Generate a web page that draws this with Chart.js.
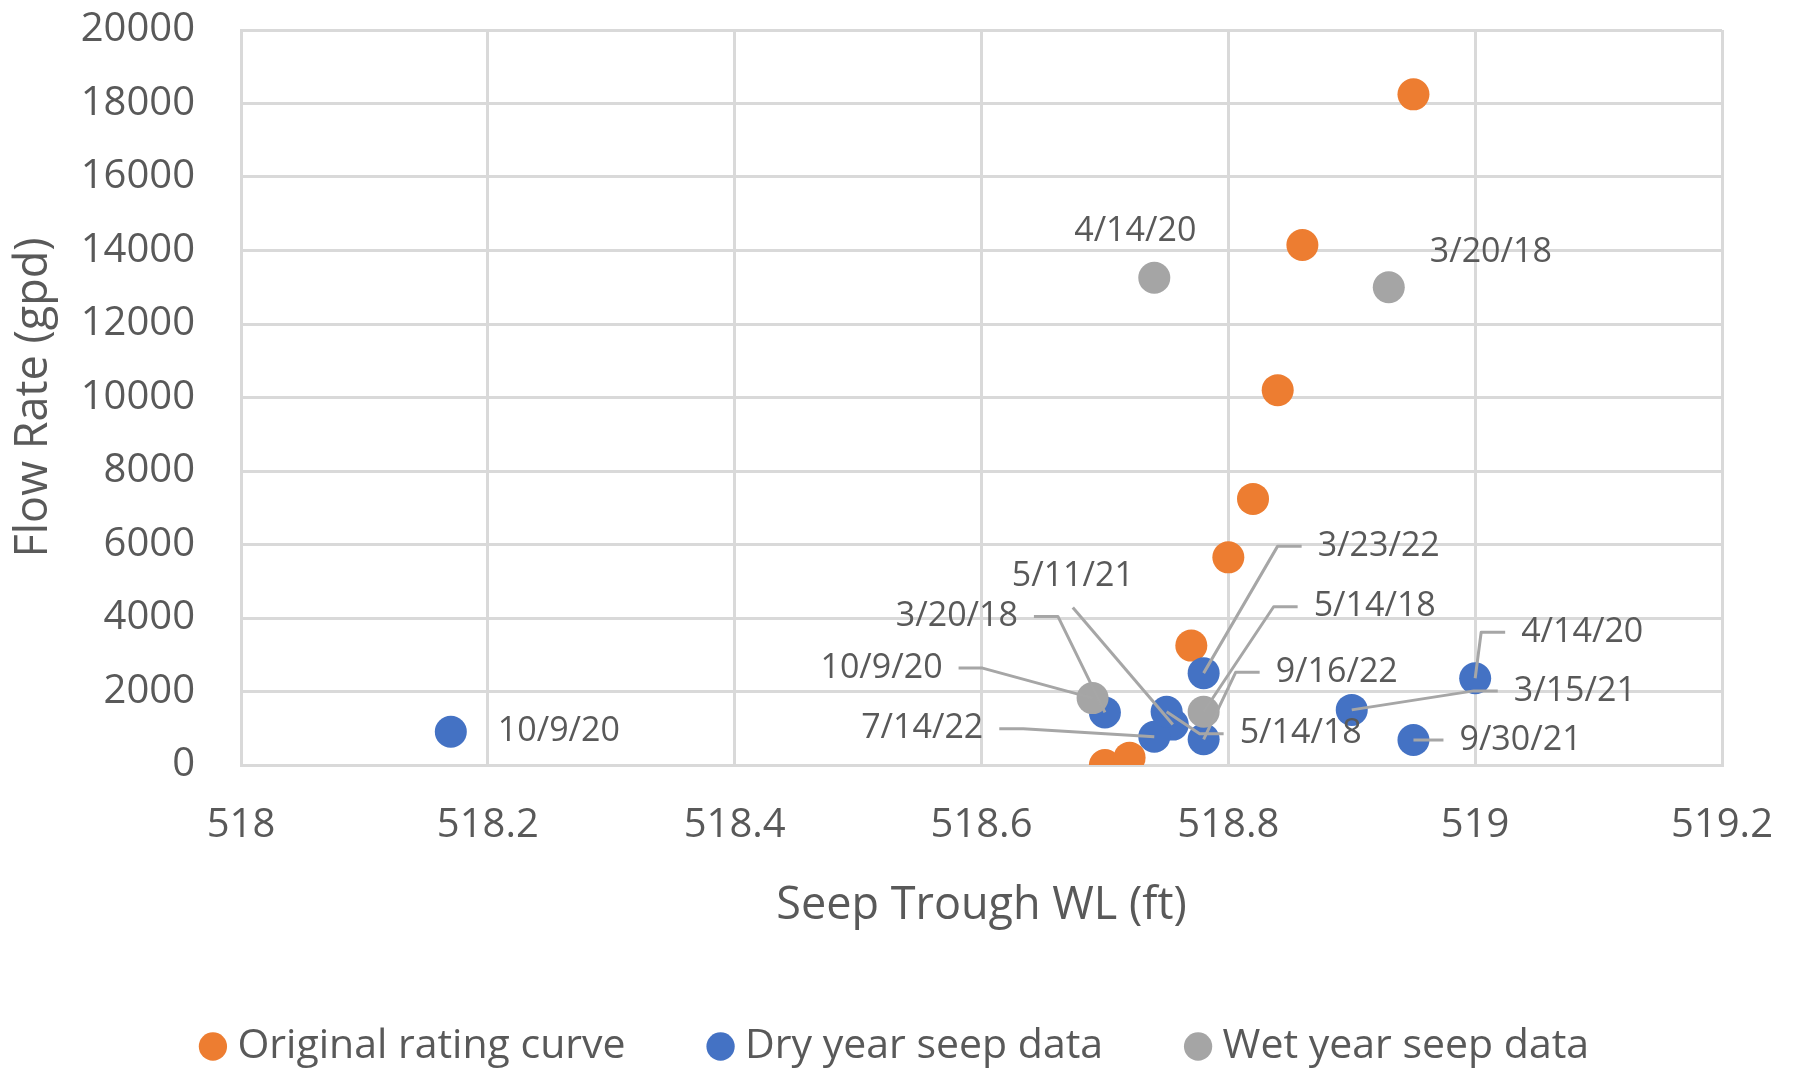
<!DOCTYPE html>
<html><head><meta charset="utf-8">
<script src="https://cdn.jsdelivr.net/npm/chart.js@4.4.1/dist/chart.umd.min.js"></script>
<style>html,body{margin:0;padding:0;background:#fff;}canvas{display:block;}</style>
</head><body>
<canvas id="c" width="1798" height="1069"></canvas>
<script>
// ---- data ----
const seriesNames = ['Original rating curve', 'Dry year seep data', 'Wet year seep data'];

const origX = [518.70, 518.72, 518.77, 518.80, 518.82, 518.84, 518.86, 518.95];
const origY = [0, 200, 3250, 5650, 7240, 10200, 14150, 18250];

const dryDates = ['10/9/20', '3/20/18', '5/11/21', '7/14/22', '3/23/22', '5/14/18', '9/16/22', '4/14/20', '3/15/21', '9/30/21'];
const dryX = [518.17, 518.70, 518.755, 518.74, 518.78, 518.75, 518.78, 519.00, 518.90, 518.95];
const dryY = [905, 1430, 1100, 770, 2500, 1450, 700, 2360, 1500, 680];

const wetDates = ['4/14/20', '3/20/18', '10/9/20', '5/14/18'];
const wetX = [518.74, 518.93, 518.69, 518.78];
const wetY = [13260, 13000, 1820, 1450];

// ---- label placement (styling, px offsets from the point) ----
const dryLabelPos = [
  {dx: 47, dy: 0, align: 'left', leader: false},
  {dx: -87, dy: -96, align: 'right', leader: true},
  {dx: -100, dy: -148, align: 'center', leader: true},
  {dx: -171, dy: -8, align: 'right', leader: true},
  {dx: 114, dy: -127, align: 'left', leader: true},
  {dx: 73, dy: 22, align: 'left', leader: true},
  {dx: 72, dy: -67, align: 'left', leader: true},
  {dx: 46, dy: -46, align: 'left', leader: true},
  {dx: 162, dy: -19, align: 'left', leader: true},
  {dx: 46, dy: 0, align: 'left', leader: true}
];
const wetLabelPos = [
  {dx: -19, dy: -46, align: 'center', leader: false},
  {dx: 41, dy: -35, align: 'left', leader: false},
  {dx: -150, dy: -30, align: 'right', leader: true},
  {dx: 110, dy: -105, align: 'left', leader: true}
];

const TEXT = '#595959';
const GRID = '#D9D9D9';
const NONE = 'rgba(0,0,0,0)';
const FONT = "'Open Sans', sans-serif";
Chart.defaults.font.family = FONT;
Chart.defaults.color = TEXT;

const toPts = (xs, ys) => xs.map((x, i) => ({x: x, y: ys[i]}));

const labelSets = [
  {dataset: 1, texts: dryDates, pos: dryLabelPos},
  {dataset: 2, texts: wetDates, pos: wetLabelPos}
];

const labelPlugin = {
  id: 'dateLabels',
  afterDatasetsDraw(chart) {
    const ctx = chart.ctx;
    const GAP = 16, STUB = 24;
    ctx.save();
    const items = [];
    labelSets.forEach(set => {
      const meta = chart.getDatasetMeta(set.dataset);
      meta.data.forEach((el, i) => {
        const o = set.pos[i];
        items.push({px: el.x, py: el.y, lx: el.x + o.dx, ly: el.y + o.dy, o: o, text: set.texts[i]});
      });
    });
    ctx.strokeStyle = '#A6A6A6';
    ctx.lineWidth = 3;
    ctx.lineJoin = 'round';
    items.forEach(it => {
      if (!it.o.leader) return;
      ctx.beginPath();
      if (it.o.align === 'left') {
        ctx.moveTo(it.lx - GAP, it.ly);
        ctx.lineTo(it.lx - GAP - STUB, it.ly);
      } else if (it.o.align === 'right') {
        ctx.moveTo(it.lx + GAP, it.ly);
        ctx.lineTo(it.lx + GAP + STUB, it.ly);
      } else {
        ctx.moveTo(it.lx, it.ly + 31);
      }
      ctx.lineTo(it.px, it.py);
      ctx.stroke();
    });
    ctx.font = '34px ' + FONT;
    ctx.textBaseline = 'middle';
    ctx.fillStyle = TEXT;
    items.forEach(it => {
      ctx.textAlign = it.o.align;
      ctx.fillText(it.text, it.lx, it.ly);
    });
    ctx.restore();
  }
};

new Chart(document.getElementById('c'), {
  type: 'scatter',
  data: {
    datasets: [
      {label: seriesNames[0], data: toPts(origX, origY), backgroundColor: '#ED7D31', borderColor: '#ED7D31', pointRadius: 16, pointBorderWidth: 0, order: 3},
      {label: seriesNames[1], data: toPts(dryX, dryY), backgroundColor: '#4472C4', borderColor: '#4472C4', pointRadius: 16, pointBorderWidth: 0, order: 2},
      {label: seriesNames[2], data: toPts(wetX, wetY), backgroundColor: '#A5A5A5', borderColor: '#A5A5A5', pointRadius: 16, pointBorderWidth: 0, order: 1}
    ]
  },
  options: {
    responsive: false,
    animation: false,
    devicePixelRatio: 1,
    layout: {padding: {top: 30, right: 76, left: 76, bottom: -8}},
    plugins: {
      legend: {
        position: 'bottom',
        labels: {
          usePointStyle: true, pointStyle: 'circle', boxWidth: 8, boxHeight: 20,
          padding: 91, color: TEXT, font: {size: 41},
          sort: (a, b) => a.datasetIndex - b.datasetIndex
        }
      },
      tooltip: {enabled: false}
    },
    scales: {
      x: {
        type: 'linear', min: 518, max: 519.2,
        ticks: {stepSize: 0.2, padding: 0, color: TEXT, font: {size: 40},
          callback: v => String(Number(v.toFixed(1)))},
        grid: {color: GRID, lineWidth: 3, drawTicks: true, tickLength: 37, tickColor: NONE},
        border: {color: GRID, width: 3},
        title: {display: true, text: 'Seep Trough WL (ft)', color: TEXT, font: {size: 45}, padding: {top: 0, bottom: 2}},
        afterFit: s => { s.height = 170; }
      },
      y: {
        min: 0, max: 20000,
        ticks: {stepSize: 2000, padding: 0, color: TEXT, font: {size: 40},
          callback: v => String(v)},
        grid: {color: GRID, lineWidth: 3, drawTicks: true, tickLength: 46, tickColor: NONE},
        border: {color: GRID, width: 3},
        title: {display: true, text: 'Flow Rate (gpd)', color: TEXT, font: {size: 45}, padding: {top: -69, bottom: 0}},
        afterFit: s => { s.width = 165; }
      }
    }
  },
  plugins: [labelPlugin]
});
</script>
</body></html>
